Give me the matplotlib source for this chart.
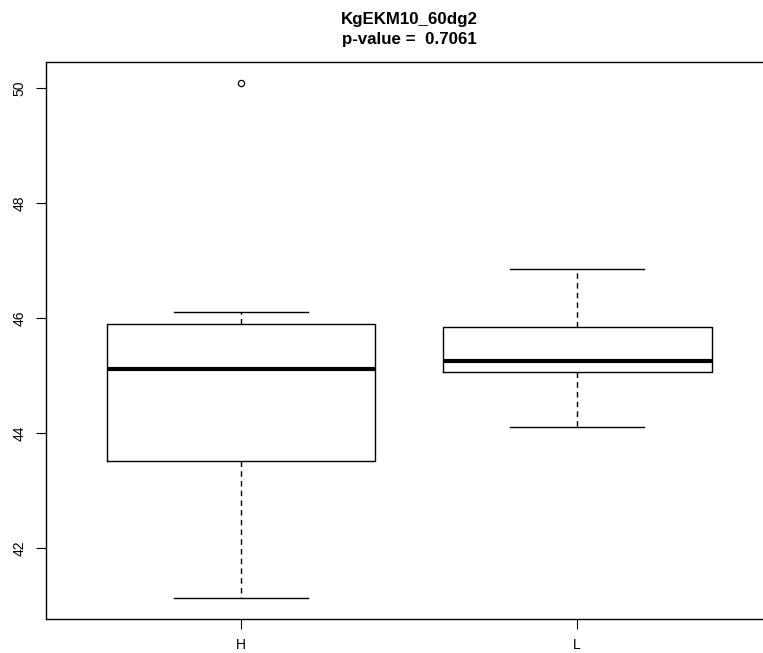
import matplotlib.pyplot as plt

# --- data ---
groups = ["H", "L"]
whislo = [41.12, 44.10]
q1 = [43.52, 45.06]
medians = [45.12, 45.25]
q3 = [45.89, 45.85]
whishi = [46.11, 46.85]
fliers = [[50.10], []]

title = "KgEKM10_60dg2\np-value =  0.7061"

plt.rcParams["font.family"] = ["Liberation Sans", "DejaVu Sans"]

W, H = 763, 653
fig = plt.figure(figsize=(W / 100, H / 100), dpi=100)
# plot region (right edge lies just outside the image, as in the reference)
left, right, top, bottom = 46, 772, 62, 619
ax = fig.add_axes([left / W, 1 - bottom / H, (right - left) / W, (bottom - top) / H])

stats = []
for i, g in enumerate(groups):
    stats.append({
        "label": g,
        "whislo": whislo[i],
        "q1": q1[i],
        "med": medians[i],
        "q3": q3[i],
        "whishi": whishi[i],
        "fliers": fliers[i],
    })

positions = list(range(1, len(groups) + 1))
ax.bxp(
    stats,
    positions=positions,
    widths=0.8,
    patch_artist=False,
    boxprops=dict(color="black", linewidth=1.0),
    medianprops=dict(color="black", linewidth=3.0, solid_capstyle="butt"),
    whiskerprops=dict(color="black", linewidth=1.0, linestyle=(0, (4, 3))),
    capprops=dict(color="black", linewidth=1.0),
    capwidths=0.4,
    flierprops=dict(marker="o", markersize=4.5, markerfacecolor="none",
                    markeredgecolor="black", markeredgewidth=0.9),
)

# R style limits: 4% extension
ylo = min(whislo + [v for f in fliers for v in f])
yhi = max(whishi + [v for f in fliers for v in f])
pad = 0.04 * (yhi - ylo)
ax.set_ylim(ylo - pad, yhi + pad)
ax.set_xlim(0.5 - 0.08, len(groups) + 0.5 + 0.08)

ax.set_yticks([42, 44, 46, 48, 50])
ax.set_xticks(positions)
ax.set_xticklabels(groups)
for lbl in ax.get_yticklabels():
    lbl.set_rotation(90)
    lbl.set_va("center")
ax.tick_params(axis="both", direction="out", length=7, width=0.8,
               labelsize=10, colors="black", pad=7)

for s in ax.spines.values():
    s.set_linewidth(1.0)

ax.set_title(title, fontsize=12.2, fontweight="bold", pad=13, linespacing=1.4)

fig.savefig("out.png", dpi=100)
